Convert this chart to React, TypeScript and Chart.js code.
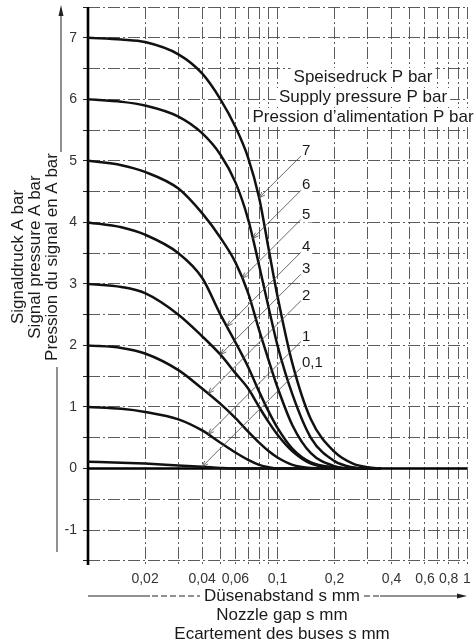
import React, { useEffect, useRef } from "react";
import { Chart, registerables } from "chart.js";

Chart.register(...registerables);
Chart.defaults.font.family = '"Liberation Sans", Arial, Helvetica, sans-serif';

// ---- data (nozzle gap s in mm, signal pressure A in bar) ----
const GAP_MM = [0.01, 0.015, 0.02, 0.03, 0.04, 0.05, 0.06, 0.07, 0.08, 0.09, 0.1, 0.12, 0.15, 0.2, 0.25, 0.3, 0.35];

const SIGNAL_P7 = [7.0, 6.97, 6.93, 6.73, 6.42, 6.0, 5.55, 5.05, 4.4, 3.55, 2.8, 1.7, 0.8, 0.27, 0.08, 0.02, 0];
const SIGNAL_P6 = [6.0, 5.96, 5.9, 5.72, 5.45, 5.1, 4.65, 4.05, 3.3, 2.6, 2.0, 1.2, 0.5, 0.12, 0.02, 0, 0];
const SIGNAL_P5 = [5.0, 4.93, 4.82, 4.55, 4.15, 3.75, 3.35, 2.85, 2.25, 1.75, 1.32, 0.7, 0.25, 0.04, 0, 0, 0];
const SIGNAL_P4 = [4.0, 3.92, 3.8, 3.5, 3.1, 2.5, 2.05, 1.65, 1.25, 0.92, 0.66, 0.32, 0.1, 0.02, 0, 0, 0];
const SIGNAL_P3 = [3.0, 2.95, 2.85, 2.5, 2.15, 1.85, 1.55, 1.3, 1.0, 0.75, 0.55, 0.28, 0.08, 0.01, 0, 0, 0];
const SIGNAL_P2 = [2.0, 1.96, 1.87, 1.6, 1.3, 1.05, 0.82, 0.6, 0.42, 0.28, 0.18, 0.06, 0.01, 0, 0, 0, 0];
const SIGNAL_P1 = [1.0, 0.97, 0.92, 0.8, 0.62, 0.42, 0.26, 0.14, 0.06, 0.02, 0, 0, 0, 0, 0, 0, 0];
const SIGNAL_P01 = [0.11, 0.095, 0.08, 0.05, 0.03, 0.01, 0, 0, 0, 0, 0, 0, 0, 0, 0, 0, 0];

const SUPPLY_LABELS = ["7", "6", "5", "4", "3", "2", "1", "0,1"];
const SUPPLY_SERIES = [SIGNAL_P7, SIGNAL_P6, SIGNAL_P5, SIGNAL_P4, SIGNAL_P3, SIGNAL_P2, SIGNAL_P1, SIGNAL_P01];
// gap (mm) at which each label's leader line meets its curve
const LEADER_GAP = [0.08, 0.074, 0.065, 0.054, 0.05, 0.043, 0.043, 0.04];
const LEADER_END_GAP = 0.133;

const X_GRID = [0.01, 0.02, 0.03, 0.04, 0.05, 0.06, 0.07, 0.08, 0.09, 0.1, 0.2, 0.3, 0.4, 0.5, 0.6, 0.7, 0.8, 0.9, 1];
const X_TICK_VALUES = [0.02, 0.04, 0.06, 0.1, 0.2, 0.4, 0.6, 0.8, 1];
const X_TICK_TEXT = ["0,02", "0,04", "0,06", "0,1", "0,2", "0,4", "0,6", "0,8", "1"];
const Y_GRID = [-1.5, -1, -0.5, 0, 0.5, 1, 1.5, 2, 2.5, 3, 3.5, 4, 4.5, 5, 5.5, 6, 6.5, 7, 7.5];
const Y_TICK_VALUES = [-1, 0, 1, 2, 3, 4, 5, 6, 7];

const TITLE_Y = ["Signaldruck A bar", "Signal pressure A bar", "Pression du signal en A bar"];
const TITLE_X = ["Düsenabstand s mm", "Nozzle gap s mm", "Ecartement des buses s mm"];
const LEGEND_TITLE = ["Speisedruck P bar", "Supply pressure P bar", "Pression d\u2019alimentation P bar"];

const FONT = '"Liberation Sans", Arial, Helvetica, sans-serif';

function valueAt(series: number[], x: number): number {
  for (let i = 0; i < GAP_MM.length - 1; i++) {
    const a = GAP_MM[i];
    const b = GAP_MM[i + 1];
    if (x >= a && x <= b) {
      const t = (Math.log10(x) - Math.log10(a)) / (Math.log10(b) - Math.log10(a));
      return series[i] + t * (series[i + 1] - series[i]);
    }
  }
  return 0;
}

function clearBehind(ctx: any, text: string, cx: number, cy: number, align: string, h: number, pad: number) {
  const w = ctx.measureText(text).width;
  let x0 = cx - w / 2;
  if (align === "left") x0 = cx;
  ctx.save();
  ctx.fillStyle = "#fff";
  ctx.fillRect(x0 - pad, cy - h / 2, w + pad * 2, h);
  ctx.restore();
}

export default function App() {
  const ref = useRef<HTMLCanvasElement>(null);

  useEffect(() => {
    const canvas = ref.current;
    if (!canvas) return;

    const datasets = SUPPLY_SERIES.map((vals, i) => ({
      label: SUPPLY_LABELS[i],
      data: GAP_MM.map((x, j) => ({ x, y: vals[j] })),
      borderColor: "#111",
      borderWidth: 2.5,
      pointRadius: 0,
      fill: false,
      cubicInterpolationMode: "monotone" as const,
    }));

    const deco = {
      id: "deco",
      beforeDatasetsDraw(chart: any) {
        const { ctx, chartArea: ca } = chart;
        const xs = chart.scales.x;
        const ys = chart.scales.y;
        ctx.save();
        ctx.setLineDash([]);

        // white patches behind the heading and curve labels (grid is interrupted there)
        ctx.font = "17px " + FONT;
        LEGEND_TITLE.forEach((t, i) => clearBehind(ctx, t, ca.right - 104, ca.top + 70 + i * 20, "center", 18, 3));
        ctx.font = "15px " + FONT;
        const endX = xs.getPixelForValue(LEADER_END_GAP);
        SUPPLY_LABELS.forEach((name, i) => {
          const g = LEADER_GAP[i];
          const tx = xs.getPixelForValue(g);
          const ty = ys.getPixelForValue(valueAt(SUPPLY_SERIES[i], g));
          const ey = ty - (endX - tx);
          clearBehind(ctx, name, endX + 1, ey - 5, "left", 16, 2);
        });

        ctx.strokeStyle = "#000";
        ctx.lineWidth = 2.6;
        const x0 = xs.getPixelForValue(0.01);
        ctx.beginPath();
        ctx.moveTo(x0, ca.top);
        ctx.lineTo(x0, ca.bottom - 2);
        ctx.stroke();
        const y0 = ys.getPixelForValue(0);
        ctx.beginPath();
        ctx.moveTo(ca.left, y0);
        ctx.lineTo(ca.right, y0);
        ctx.stroke();
        ctx.restore();
      },
      afterDraw(chart: any) {
        const { ctx, chartArea: ca } = chart;
        const xs = chart.scales.x;
        const ys = chart.scales.y;
        ctx.save();
        ctx.setLineDash([]);
        ctx.fillStyle = "#1a1a1a";

        // legend heading
        ctx.font = "17px " + FONT;
        ctx.textAlign = "center";
        ctx.textBaseline = "middle";
        LEGEND_TITLE.forEach((t, i) => ctx.fillText(t, ca.right - 104, ca.top + 70 + i * 20));

        // leader lines + curve labels
        const endX = xs.getPixelForValue(LEADER_END_GAP);
        ctx.strokeStyle = "#444";
        ctx.lineWidth = 0.8;
        ctx.font = "15px " + FONT;
        ctx.textAlign = "left";
        SUPPLY_LABELS.forEach((name, i) => {
          const g = LEADER_GAP[i];
          const tx = xs.getPixelForValue(g);
          const ty = ys.getPixelForValue(valueAt(SUPPLY_SERIES[i], g));
          const ey = ty - (endX - tx);
          ctx.beginPath();
          ctx.moveTo(tx, ty);
          ctx.lineTo(endX, ey);
          ctx.stroke();
          const d = Math.SQRT1_2;
          const ux = d, uy = -d;
          const len = 6, w = 2.2;
          ctx.beginPath();
          ctx.moveTo(tx + ux * len - uy * w, ty + uy * len + ux * w);
          ctx.lineTo(tx, ty);
          ctx.lineTo(tx + ux * len + uy * w, ty + uy * len - ux * w);
          ctx.stroke();
          ctx.fillText(name, endX + 1, ey - 5);
        });

        // y axis title
        ctx.font = "17px " + FONT;
        ctx.textAlign = "center";
        ctx.textBaseline = "middle";
        const ycx = [18, 35, 52];
        TITLE_Y.forEach((t, i) => {
          ctx.save();
          ctx.translate(ycx[i], 257);
          ctx.rotate(-Math.PI / 2);
          ctx.fillText(t, 0, 0);
          ctx.restore();
        });
        ctx.strokeStyle = "#222";
        ctx.lineWidth = 1;
        ctx.beginPath();
        ctx.moveTo(61, 152);
        ctx.lineTo(61, 12);
        ctx.moveTo(57, 367);
        ctx.lineTo(57, 552);
        ctx.stroke();
        ctx.fillStyle = "#222";
        ctx.beginPath();
        ctx.moveTo(61, 5);
        ctx.lineTo(58.5, 16);
        ctx.lineTo(63.5, 16);
        ctx.closePath();
        ctx.fill();

        // x axis title
        ctx.fillStyle = "#1a1a1a";
        TITLE_X.forEach((t, i) => ctx.fillText(t, 282, 596 + i * 19));
        ctx.beginPath();
        ctx.moveTo(ca.left, 596);
        ctx.lineTo(150, 596);
        ctx.moveTo(380, 596);
        ctx.lineTo(460, 596);
        ctx.stroke();
        ctx.setLineDash([6, 3]);
        ctx.beginPath();
        ctx.moveTo(152, 596);
        ctx.lineTo(200, 596);
        ctx.moveTo(364, 596);
        ctx.lineTo(380, 596);
        ctx.stroke();
        ctx.setLineDash([]);
        ctx.fillStyle = "#222";
        ctx.beginPath();
        ctx.moveTo(467, 596);
        ctx.lineTo(457, 593.5);
        ctx.lineTo(457, 598.5);
        ctx.closePath();
        ctx.fill();
        ctx.restore();
      },
    };

    const dash = [12, 3, 2, 3];
    const chart = new Chart(canvas, {
      type: "line",
      data: { datasets },
      options: {
        animation: false,
        responsive: false,
        layout: { padding: { top: 7, right: 7, left: 0, bottom: 0 } },
        plugins: { legend: { display: false }, tooltip: { enabled: false } },
        scales: {
          x: {
            type: "logarithmic",
            min: 0.01,
            max: 1,
            afterBuildTicks: (a: any) => {
              a.ticks = X_GRID.map((v) => ({ value: v }));
            },
            afterFit: (a: any) => {
              a.height = 76;
              a.paddingLeft = 0;
              a.paddingRight = 0;
            },
            ticks: {
              autoSkip: false,
              maxRotation: 0,
              minRotation: 0,
              padding: 4,
              color: "#333",
              font: { size: 14 },
              callback: (v: any) => {
                const i = X_TICK_VALUES.findIndex((t) => Math.abs(t - Number(v)) < 1e-9);
                return i >= 0 ? X_TICK_TEXT[i] : "";
              },
            },
            grid: { color: "#4a4a4a", lineWidth: 0.9, drawTicks: false },
            border: { display: false, dash },
          },
          y: {
            type: "linear",
            min: -1.6,
            max: 7.5,
            afterBuildTicks: (a: any) => {
              a.ticks = Y_GRID.map((v) => ({ value: v }));
            },
            afterFit: (a: any) => {
              a.width = 88;
              a.paddingTop = 0;
              a.paddingBottom = 0;
            },
            ticks: {
              padding: 6,
              color: "#333",
              font: { size: 14 },
              callback: (v: any) => (Y_TICK_VALUES.includes(Number(v)) ? String(v) : ""),
            },
            grid: {
              color: "#4a4a4a",
              lineWidth: 0.9,
              drawTicks: true,
              tickLength: 5,
              tickColor: "#222",
              tickWidth: 1,
            },
            border: { display: false, dash },
          },
        },
      },
      plugins: [deco],
    } as any);

    return () => chart.destroy();
  }, []);

  return (
    <div style={{ position: "absolute", left: 0, top: 0, width: 474, height: 643, background: "#fff" }}>
      <canvas ref={ref} width={474} height={643} style={{ display: "block" }} />
    </div>
  );
}
